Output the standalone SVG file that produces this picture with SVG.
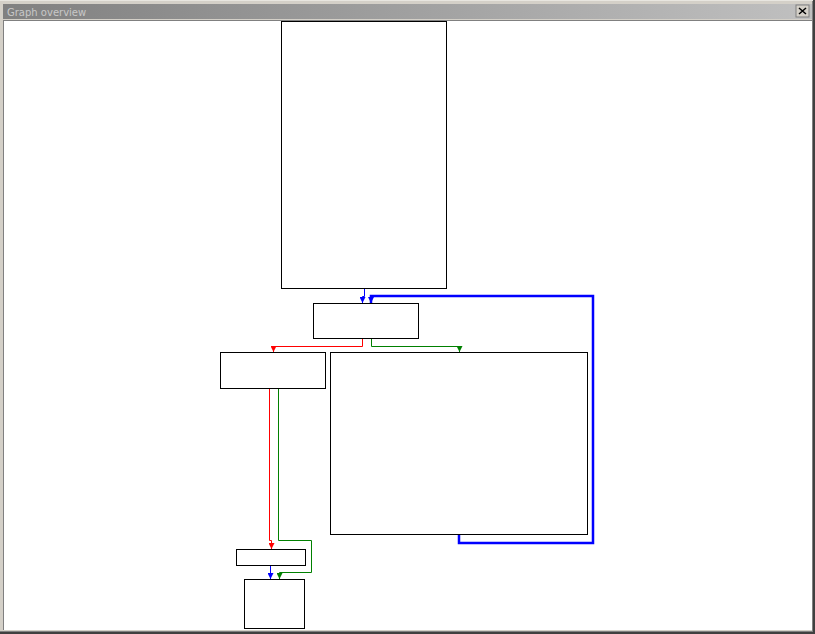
<svg xmlns="http://www.w3.org/2000/svg" width="815" height="634" viewBox="0 0 815 634">
<style>
.node{fill:#fff;stroke:#000;stroke-width:1}
.e{fill:none;stroke-width:1}
.r{stroke:#f00}
.g{stroke:#008000}
.b{stroke:#00f}
.bt{stroke:#00f;stroke-width:2.5}
.title{font-family:"DejaVu Sans",sans-serif;font-size:10px;fill:#c8c8c8}
</style>
<defs>
<linearGradient id="tb" x1="0" x2="1" y1="0" y2="0">
<stop offset="0" stop-color="#808080"/>
<stop offset="1" stop-color="#c0c0c0"/>
</linearGradient>
<marker id="ar" viewBox="0 0 6 6" refX="6" refY="3" markerWidth="6" markerHeight="6" markerUnits="userSpaceOnUse" orient="auto"><path d="M0,0V6L6,3Z" fill="#f00"/></marker>
<marker id="ag" viewBox="0 0 6 6" refX="6" refY="3" markerWidth="6" markerHeight="6" markerUnits="userSpaceOnUse" orient="auto"><path d="M0,0V6L6,3Z" fill="#008000"/></marker>
<marker id="ab" viewBox="0 0 6 6" refX="6" refY="3" markerWidth="6" markerHeight="6" markerUnits="userSpaceOnUse" orient="auto"><path d="M0,0V6L6,3Z" fill="#00f"/></marker>
</defs>
<g id="window">
<rect x="0" y="0" width="815" height="634" fill="#d4d0c8"/>
<rect x="0" y="0" width="815" height="1" fill="#e8e6e0"/>
<rect x="0" y="632" width="815" height="2" fill="#404040"/>
<rect x="0" y="631" width="815" height="1" fill="#808080"/>
<rect x="813" y="0" width="2" height="634" fill="#404040"/>
<rect x="812" y="1" width="1" height="631" fill="#808080"/>
<rect x="3" y="4" width="809" height="15" fill="url(#tb)"/>
<text class="title" x="7" y="15.5">Graph overview</text>
<rect x="796" y="5" width="13" height="12" fill="#d4d0c8" stroke="#808080" stroke-width="1"/>
<path d="M799,8L806,14M806,8L799,14" stroke="#000" stroke-width="1.5"/>
<rect x="3" y="20" width="809" height="610" fill="#808080"/>
<rect x="4" y="21" width="808" height="609" fill="#fff"/>
</g>
<g id="connectors">
<path class="e b" d="M364.5,288.5V296.5H362.5V303" marker-end="url(#ab)"/>
<path class="e bt" d="M459,534.5V543H593V296H371V303" marker-end="url(#ab)"/>
<path class="e r" d="M362.5,338.5V346.5H273.5V352" marker-end="url(#ar)"/>
<path class="e g" d="M371.5,338.5V346.5H459.5V352" marker-end="url(#ag)"/>
<path class="e r" d="M269.5,388.5V540.5H271.5V549" marker-end="url(#ar)"/>
<path class="e g" d="M278.5,388.5V540.5H311.5V572.5H279.5V579" marker-end="url(#ag)"/>
<path class="e b" d="M270.5,565.5V579" marker-end="url(#ab)"/>
</g>
<g id="n1"><rect class="node" x="281.5" y="21.5" width="165" height="267"/></g>
<g id="n2"><rect class="node" x="313.5" y="303.5" width="105" height="35"/></g>
<g id="n3"><rect class="node" x="220.5" y="352.5" width="105" height="36"/></g>
<g id="n4"><rect class="node" x="330.5" y="352.5" width="257" height="182"/></g>
<g id="n5"><rect class="node" x="236.5" y="549.5" width="69" height="16"/></g>
<g id="n6"><rect class="node" x="244.5" y="579.5" width="60" height="49"/></g>
</svg>
